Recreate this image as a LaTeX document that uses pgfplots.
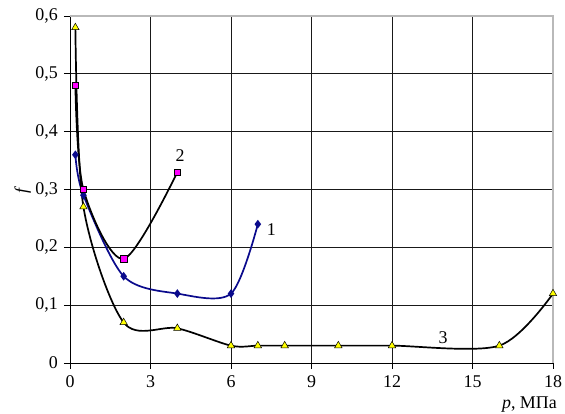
\documentclass[border=0pt]{standalone}
\usepackage{fontspec}
\setmainfont{Liberation Serif}
\usepackage{pgfplots}
\pgfplotsset{compat=1.18}
\definecolor{navyc}{RGB}{10,10,140}
\definecolor{magc}{RGB}{255,0,255}
\definecolor{yelc}{RGB}{255,255,0}
\begin{document}
\fontsize{18}{21}\selectfont
\begin{tikzpicture}
\begin{axis}[
  name=ax,
  scale only axis, width=483bp, height=347bp,
  xmin=0, xmax=18, ymin=0, ymax=0.6,
  xtick={0,3,6,9,12,15,18},
  ytick={0,0.1,0.2,0.3,0.4,0.5,0.6},
  /pgf/number format/assume math mode=true,
  yticklabel style={/pgf/number format/.cd, fixed, use comma, precision=1},
  tick label style={font=\fontsize{18}{21}\selectfont},
  axis x line*=bottom, axis y line*=left,
  axis line style={black, line width=0.9bp},
  tick align=outside, major tick length=6bp,
  tick style={black, line width=0.8bp},
  grid=major, major grid style={black!90, line width=0.9bp},
  xlabel={\textit{p}, МПа},
  xlabel style={at={(axis description cs:1,0)}, anchor=base east, xshift=10bp, yshift=-46bp, font=\fontsize{18}{21}\selectfont},
  ylabel={\textit{f}},
  ylabel style={at={(axis description cs:-0.098,0.5)}, anchor=center, font=\fontsize{18}{21}\selectfont},
  clip=false,
]
\draw[gray!55, line width=1.2bp] (rel axis cs:0,1) -- (rel axis cs:1,1) -- (rel axis cs:1,0);
% series 1
\addplot[navyc, line width=1.7bp, smooth, mark=diamond*, mark size=3bp, mark options={fill=navyc, draw=navyc}]
  coordinates {(0.2,0.36)(0.5,0.29)(2,0.15)(4,0.12)(6,0.12)(7,0.24)};
% series 2
\addplot[black, line width=1.7bp, smooth, mark=square*, mark size=3.2bp, mark options={fill=magc, draw=black, line width=0.5bp}]
  coordinates {(0.2,0.48)(0.5,0.30)(2,0.18)(4,0.33)};
% series 3
\addplot[black, line width=1.7bp, smooth, mark=triangle*, mark size=4.3bp, mark options={fill=yelc, draw=black, line width=0.5bp}]
  coordinates {(0.2,0.58)(0.5,0.27)(2,0.07)(4,0.06)(6,0.03)(7,0.03)(8,0.03)(10,0.03)(12,0.03)(16,0.03)(18,0.12)};
\node[font=\fontsize{18}{21}\selectfont] at (axis cs:7.5,0.23) {1};
\node[font=\fontsize{18}{21}\selectfont] at (axis cs:4.1,0.358) {2};
\node[font=\fontsize{18}{21}\selectfont] at (axis cs:13.9,0.044) {3};
\end{axis}
\pgfresetboundingbox
\path ([shift={(-70bp,-51bp)}]ax.south west) rectangle ([shift={(12bp,16bp)}]ax.north east);
\end{tikzpicture}
\end{document}
